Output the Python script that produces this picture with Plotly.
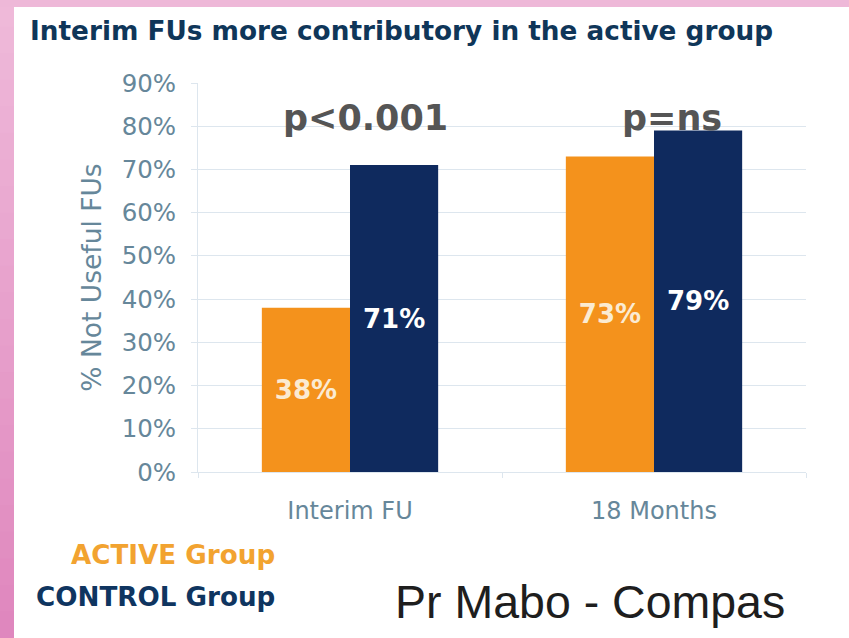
import plotly.graph_objects as go

# ---- data ----
categories = ["Interim FU", "18 Months"]
active_values = [38, 73]
control_values = [71, 79]
p_labels = ["p<0.001", "p=ns"]
y_ticks = list(range(0, 100, 10))
y_tick_text = [f"{v}%" for v in y_ticks]

ORANGE = "#F4921C"
NAVY = "#0F2A5E"
AXIS_TXT = "#66879a"
GRID = "#dde6ee"
FONT = "DejaVu Sans"

# plot-area pixel geometry (for converting decorative shapes to paper coords)
W, H = 849, 638
ML, MR, MT, MB = 198, 43, 83, 166
PW, PH = W - ML - MR, H - MT - MB


def px_x(px):
    return (px - ML) / PW


def px_y(py):
    return (H - MB - py) / PH


fig = go.Figure()
fig.add_trace(go.Bar(
    name="ACTIVE Group", x=categories, y=active_values,
    marker=dict(color=ORANGE, line=dict(width=0)),
    text=[f"{v}%" for v in active_values], textposition="inside",
    insidetextanchor="middle", textangle=0, constraintext="none",
    textfont=dict(family=FONT, size=26, color="#FBEBD2", weight="bold"),
))
fig.add_trace(go.Bar(
    name="CONTROL Group", x=categories, y=control_values,
    marker=dict(color=NAVY, line=dict(width=0)),
    text=[f"{v}%" for v in control_values], textposition="inside",
    insidetextanchor="middle", textangle=0, constraintext="none",
    textfont=dict(family=FONT, size=26, color="#FFFFFF", weight="bold"),
))

# p-value annotations
for idx, (lab, dx) in enumerate(zip(p_labels, [0.05, 0.06])):
    fig.add_annotation(
        x=idx + dx, y=82.0, xref="x", yref="y", text=lab, showarrow=False,
        font=dict(family=FONT, size=35, color="#555555", weight="bold"),
        xanchor="center", yanchor="middle",
    )

# legend-like text labels
fig.add_annotation(x=px_x(277), y=px_y(555), xref="paper", yref="paper",
                   text="ACTIVE Group", showarrow=False, xanchor="right", yanchor="middle",
                   font=dict(family=FONT, size=26.2, color="#F2A330", weight="bold"))
fig.add_annotation(x=px_x(277), y=px_y(597), xref="paper", yref="paper",
                   text="CONTROL Group", showarrow=False, xanchor="right", yanchor="middle",
                   font=dict(family=FONT, size=26.2, color="#0F3560", weight="bold"))
fig.add_annotation(x=px_x(590), y=px_y(602), xref="paper", yref="paper",
                   text="Pr Mabo - Compas", showarrow=False, xanchor="center", yanchor="middle",
                   font=dict(family="Liberation Sans", size=46.5, color="#1e1e1e"))

# pink decorative border (gradient approximated by bands)
top_c = (0xEF, 0xBA, 0xDA)
bot_c = (0xDF, 0x86, 0xBD)
n = 24
for i in range(n):
    t = (i + 0.5) / n
    c = tuple(round(top_c[k] + (bot_c[k] - top_c[k]) * t) for k in range(3))
    y0 = H * i / n
    y1 = H * (i + 1) / n + 1
    fig.add_shape(type="rect", xref="paper", yref="paper", layer="below",
                  x0=px_x(0), x1=px_x(14), y0=px_y(y1), y1=px_y(y0),
                  fillcolor="rgb(%d,%d,%d)" % c, line=dict(width=0))
fig.add_shape(type="rect", xref="paper", yref="paper", layer="below",
              x0=px_x(0), x1=px_x(W), y0=px_y(7), y1=px_y(-2),
              fillcolor="#EEB8D8", line=dict(width=0))

fig.update_layout(
    width=W, height=H, autosize=False,
    margin=dict(l=ML, r=MR, t=MT, b=MB),
    paper_bgcolor="white", plot_bgcolor="white",
    barmode="group", bargap=0.42, bargroupgap=0,
    showlegend=False,
    title=dict(text="Interim FUs more contributory in the active group",
               x=30 / W, xanchor="left", y=1 - 31 / H, yanchor="middle",
               xref="container", yref="container",
               font=dict(family=FONT, size=26.3, color="#0F3659", weight="bold")),
    font=dict(family=FONT),
)
fig.update_yaxes(
    range=[0, 90], tickmode="array", tickvals=y_ticks, ticktext=y_tick_text,
    showgrid=True, gridcolor=GRID, gridwidth=1,
    zeroline=False, showline=True, linecolor=GRID,
    ticks="outside", ticklen=6, tickcolor=GRID,
    ticklabelstandoff=10,
    tickfont=dict(family=FONT, size=24.5, color=AXIS_TXT),
    title=dict(text="% Not Useful FUs", standoff=12,
               font=dict(family=FONT, size=26.5, color=AXIS_TXT)),
)
fig.update_xaxes(
    showline=True, linecolor=GRID, showgrid=False,
    ticks="outside", tickson="boundaries", ticklen=5, tickcolor=GRID,
    tickfont=dict(family=FONT, size=24, color=AXIS_TXT),
    ticklabelstandoff=17,
)

fig.write_html("out.html", config={"displayModeBar": False},
               post_script="document.body.style.margin='0px';")
